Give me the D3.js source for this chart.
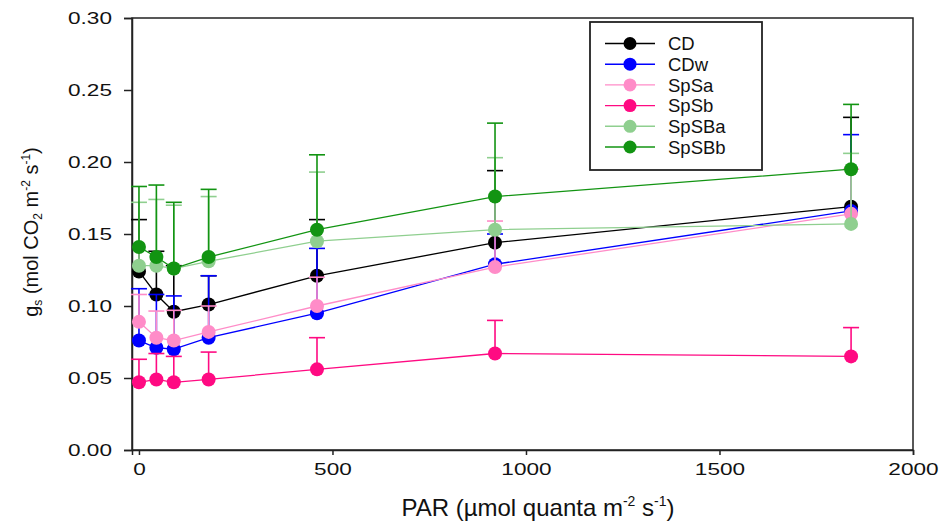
<!DOCTYPE html>
<html>
<head>
<meta charset="utf-8">
<script src="https://cdn.jsdelivr.net/npm/d3@7"></script>
<style>
  html, body { margin: 0; padding: 0; background: #fff; }
  svg { display: block; }
  text { font-family: "Liberation Sans", Arial, sans-serif; fill: #111; }
</style>
</head>
<body>
<svg id="chart" width="939" height="525"></svg>
<script>
// ---------- data ----------
const par = [0, 45, 90, 180, 460, 920, 1840];
const seriesNames = ["CD", "CDw", "SpSa", "SpSb", "SpSBa", "SpSBb"];
const seriesColors = ["#000000", "#0000ff", "#ff8cc8", "#ff0a82", "#8fcf8f", "#129412"];
const CD    = [0.124, 0.108, 0.096, 0.101, 0.121, 0.144, 0.169];
const CDw   = [0.076, 0.071, 0.070, 0.078, 0.095, 0.129, 0.166];
const SpSa  = [0.089, 0.078, 0.076, 0.082, 0.100, 0.127, 0.164];
const SpSb  = [0.047, 0.049, 0.047, 0.049, 0.056, 0.067, 0.065];
const SpSBa = [0.128, 0.128, 0.126, 0.131, 0.145, 0.153, 0.157];
const SpSBb = [0.141, 0.134, 0.126, 0.134, 0.153, 0.176, 0.195];
// upper error bar lengths (SE)
const CD_se    = [0.036, 0.030, 0.032, 0.020, 0.039, 0.050, 0.062];
const CDw_se   = [0.036, 0.037, 0.037, 0.043, 0.045, 0.021, 0.053];
const SpSa_se  = [0.019, 0.0185, 0.021, 0.018, 0.020, 0.032, 0.031];
const SpSb_se  = [0.016, 0.018, 0.018, 0.019, 0.022, 0.023, 0.020];
const SpSBa_se = [0.044, 0.046, 0.044, 0.045, 0.048, 0.050, 0.049];
const SpSBb_se = [0.042, 0.050, 0.046, 0.047, 0.052, 0.051, 0.045];
const xTicks = [0, 500, 1000, 1500, 2000];
const yTicks = [0.00, 0.05, 0.10, 0.15, 0.20, 0.25, 0.30];

const seriesValues = [CD, CDw, SpSa, SpSb, SpSBa, SpSBb];
const seriesErr = [CD_se, CDw_se, SpSa_se, SpSb_se, SpSBa_se, SpSBb_se];

// ---------- layout ----------
const svg = d3.select("#chart");
const mLeft = 132, mRight = 913, mTop = 18, mBottom = 450;
const stretch = 1.33;

const x = d3.scaleLinear().domain([-18, 2000]).range([mLeft, mRight]);
const y = d3.scaleLinear().domain([0, 0.30]).range([mBottom, mTop]);

// frame
svg.append("rect")
  .attr("x", mLeft).attr("y", mTop)
  .attr("width", mRight - mLeft).attr("height", mBottom - mTop)
  .attr("fill", "none").attr("stroke", "#222").attr("stroke-width", 1.5);

// axes
const yAxis = svg.append("g")
  .attr("transform", `translate(${mLeft},0)`)
  .call(d3.axisLeft(y).tickValues(yTicks).tickFormat(d3.format(".2f")).tickSize(8).tickPadding(12));
const xAxis = svg.append("g")
  .attr("transform", `translate(0,${mBottom})`)
  .call(d3.axisBottom(x).tickValues(xTicks).tickFormat(d3.format("d")).tickSize(5).tickPadding(8));
[yAxis, xAxis].forEach(g => {
  g.select(".domain").attr("stroke", "#222").attr("stroke-width", 1.5);
  g.selectAll(".tick line").attr("stroke", "#222").attr("stroke-width", 1.5);
  g.selectAll(".tick text").attr("font-size", 17).attr("fill", "#111")
    .attr("font-family", "'Liberation Sans', Arial, sans-serif");
});
// widen tick labels horizontally like the original rendering
yAxis.selectAll(".tick text").each(function () {
  const t = d3.select(this);
  const xx = +t.attr("x");
  t.attr("x", xx / stretch).attr("transform", `scale(${stretch},1)`);
});
xAxis.selectAll(".tick text").attr("transform", `scale(${stretch},1)`);

// ---------- series ----------
const plot = svg.append("g");
const line = d3.line().x((d, i) => x(par[i])).y(d => y(d));

seriesNames.forEach((name, si) => {
  const vals = seriesValues[si], err = seriesErr[si], col = seriesColors[si];
  const g = plot.append("g");
  const eb = g.selectAll(".eb").data(vals).enter().append("g");
  eb.append("line")
    .attr("x1", (d, i) => x(par[i])).attr("x2", (d, i) => x(par[i]))
    .attr("y1", d => y(d)).attr("y2", (d, i) => y(d + err[i]))
    .attr("stroke", col).attr("stroke-width", 1.6);
  eb.append("line")
    .attr("x1", (d, i) => x(par[i]) - 8).attr("x2", (d, i) => x(par[i]) + 8)
    .attr("y1", (d, i) => y(d + err[i])).attr("y2", (d, i) => y(d + err[i]))
    .attr("stroke", col).attr("stroke-width", 1.6);
  g.append("path").datum(vals).attr("d", line)
    .attr("fill", "none").attr("stroke", col).attr("stroke-width", 1.3);
  g.selectAll("circle").data(vals).enter().append("circle")
    .attr("cx", (d, i) => x(par[i])).attr("cy", d => y(d))
    .attr("r", 7).attr("fill", col);
});

// ---------- legend ----------
const lg = svg.append("g");
lg.append("rect").attr("x", 590).attr("y", 22).attr("width", 172).attr("height", 148)
  .attr("fill", "#fff").attr("stroke", "#222").attr("stroke-width", 1.8);
const legendY = d3.scalePoint().domain(seriesNames).range([43.5, 147]);
seriesNames.forEach((name, si) => {
  const yy = legendY(name), col = seriesColors[si];
  lg.append("line").attr("x1", 605).attr("x2", 655).attr("y1", yy).attr("y2", yy)
    .attr("stroke", col).attr("stroke-width", 1.4);
  lg.append("circle").attr("cx", 630).attr("cy", yy).attr("r", 6.5).attr("fill", col);
  lg.append("text").attr("x", 668).attr("y", yy).attr("dy", "0.36em")
    .attr("font-size", 18.5).text(name);
});

// ---------- axis titles ----------
const xt = svg.append("text").attr("x", 538).attr("y", 516)
  .attr("text-anchor", "middle").attr("font-size", 24);
xt.append("tspan").text("PAR (µmol quanta m");
xt.append("tspan").attr("font-size", 14).attr("dy", -10).text("-2");
xt.append("tspan").attr("dy", 10).text(" s");
xt.append("tspan").attr("font-size", 14).attr("dy", -10).text("-1");
xt.append("tspan").attr("dy", 10).text(")");

const yt = svg.append("text")
  .attr("transform", "translate(38,232) rotate(-90)")
  .attr("text-anchor", "middle").attr("font-size", 20);
yt.append("tspan").text("g");
yt.append("tspan").attr("font-size", 12).attr("dy", 4).text("s");
yt.append("tspan").attr("dy", -4).text(" (mol CO");
yt.append("tspan").attr("font-size", 12).attr("dy", 4).text("2");
yt.append("tspan").attr("dy", -4).text(" m");
yt.append("tspan").attr("font-size", 12).attr("dy", -8).text("-2");
yt.append("tspan").attr("dy", 8).text(" s");
yt.append("tspan").attr("font-size", 12).attr("dy", -8).text("-1");
yt.append("tspan").attr("dy", 8).text(")");
</script>
</body>
</html>
